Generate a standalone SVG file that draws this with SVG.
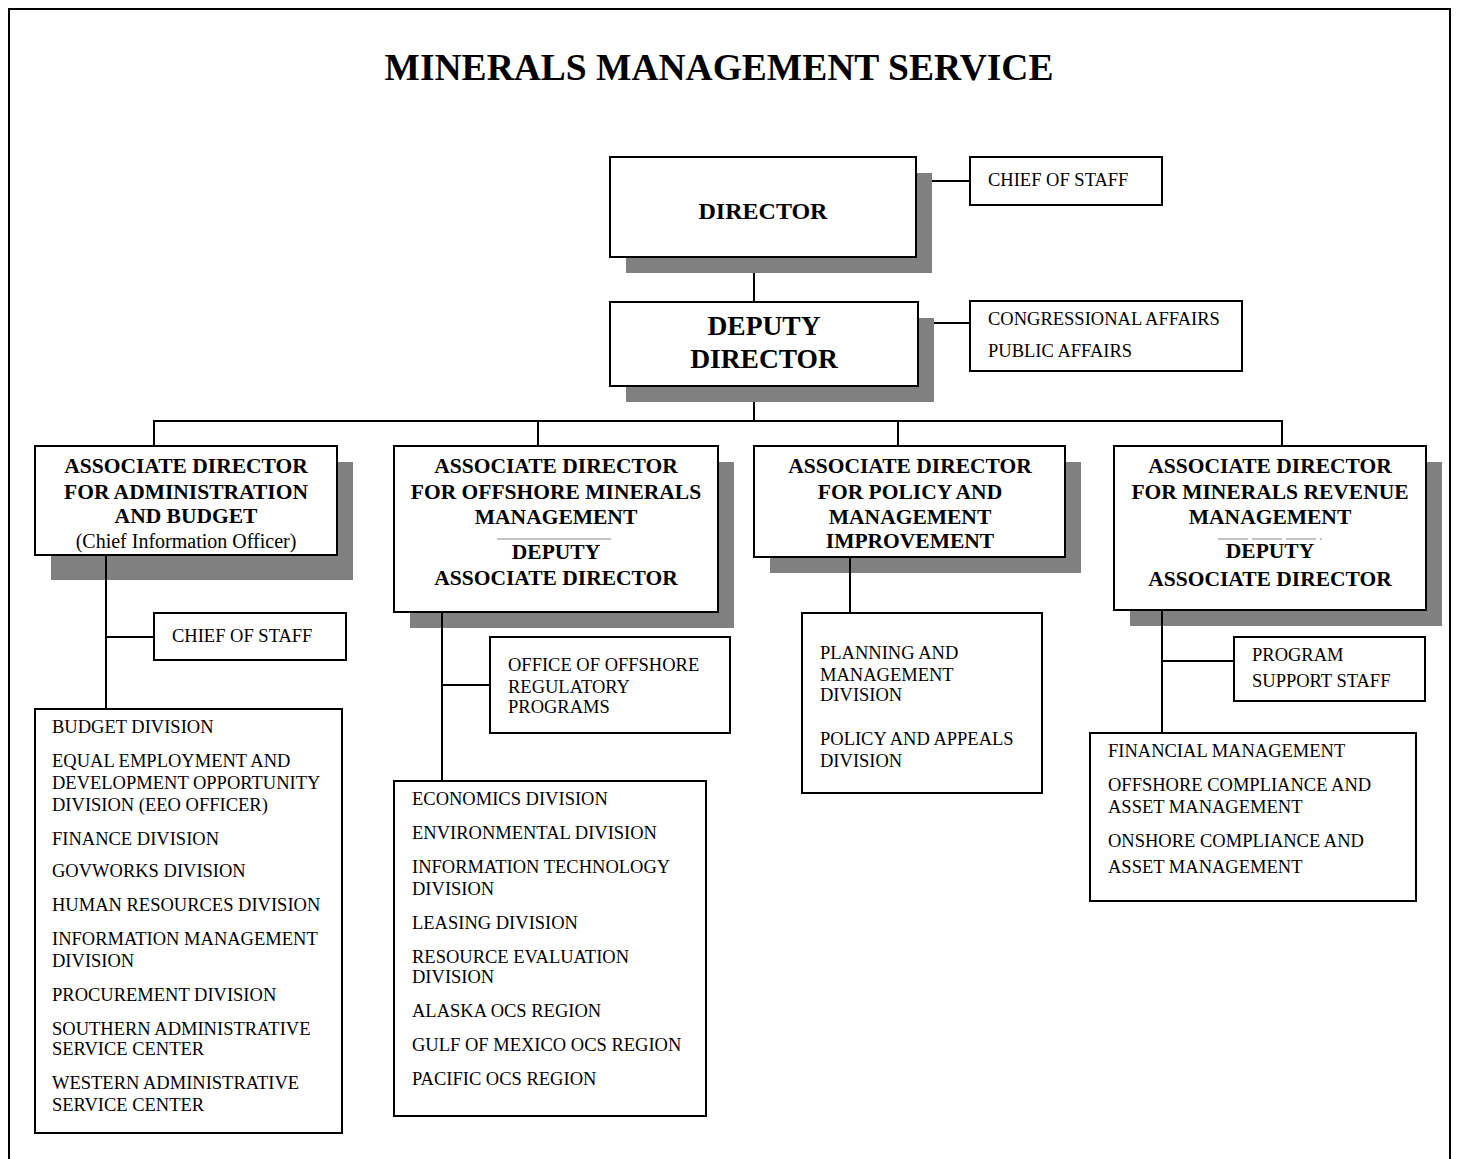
<svg xmlns="http://www.w3.org/2000/svg" width="1457" height="1159" viewBox="0 0 1457 1159">
<style>
.bx{fill:#fff;stroke:#000;stroke-width:2}
.sh{fill:#808080}
.ln{stroke:#000;stroke-width:2;fill:none}
.sep{stroke:#b0b0b0;stroke-width:1.5}
.t{font-family:"Liberation Serif","Times New Roman",serif;font-size:18.5px;fill:#000}
.b{font-family:"Liberation Serif","Times New Roman",serif;font-weight:bold;fill:#000;text-anchor:middle}
.h{font-size:21.5px}
.r{font-family:"Liberation Serif","Times New Roman",serif;font-size:20px;fill:#000;text-anchor:middle}
</style>
<rect x="9" y="9" width="1441" height="1200" fill="#fff" stroke="#000" stroke-width="2"/>
<text x="719" y="80" class="b" style="font-size:37.5px">MINERALS MANAGEMENT SERVICE</text>

<g id="connectors">
<line class="ln" x1="921" y1="181" x2="970" y2="181"/>
<line class="ln" x1="921" y1="323" x2="970" y2="323"/>
<line class="ln" x1="754" y1="257" x2="754" y2="302"/>
<line class="ln" x1="754" y1="386" x2="754" y2="421"/>
<line class="ln" x1="153" y1="421" x2="1283" y2="421"/>
<line class="ln" x1="154" y1="421" x2="154" y2="446"/>
<line class="ln" x1="538" y1="421" x2="538" y2="446"/>
<line class="ln" x1="898" y1="421" x2="898" y2="446"/>
<line class="ln" x1="1282" y1="421" x2="1282" y2="446"/>
</g>

<g id="director">
<rect class="sh" x="626" y="173" width="306" height="100"/>
<rect class="bx" x="610" y="157" width="306" height="100"/>
<text x="763" y="219" class="b" style="font-size:24px">DIRECTOR</text>
</g>
<g id="chief-of-staff">
<rect class="bx" x="970" y="157" width="192" height="48"/>
<text x="988" y="186" class="t">CHIEF OF STAFF</text>
</g>
<g id="deputy-director">
<rect class="sh" x="626" y="318" width="308" height="84"/>
<rect class="bx" x="610" y="302" width="308" height="84"/>
<text x="764" y="335" class="b" style="font-size:27.5px">DEPUTY</text>
<text x="764" y="368" class="b" style="font-size:27.5px">DIRECTOR</text>
</g>
<g id="affairs">
<rect class="bx" x="970" y="301" width="272" height="70"/>
<text x="988" y="325" class="t">CONGRESSIONAL AFFAIRS</text>
<text x="988" y="357" class="t">PUBLIC AFFAIRS</text>
</g>

<g id="ad-admin">
<rect class="sh" x="51" y="462" width="302" height="118"/>
<rect class="bx" x="35" y="446" width="302" height="109"/>
<text x="186" y="473" class="b h">ASSOCIATE DIRECTOR</text>
<text x="186" y="499" class="b h">FOR ADMINISTRATION</text>
<text x="186" y="523" class="b h">AND BUDGET</text>
<text x="186" y="548" class="r">(Chief Information Officer)</text>
</g>
<g id="admin-branch">
<line class="ln" x1="106" y1="555" x2="106" y2="709"/>
<line class="ln" x1="106" y1="637" x2="154" y2="637"/>
</g>
<g id="admin-chief-of-staff">
<rect class="bx" x="154" y="613" width="192" height="47"/>
<text x="172" y="642" class="t">CHIEF OF STAFF</text>
</g>
<g id="admin-divisions">
<rect class="bx" x="35" y="709" width="307" height="424"/>
<text x="52" y="733" class="t">BUDGET DIVISION</text>
<text x="52" y="767" class="t">EQUAL EMPLOYMENT AND</text>
<text x="52" y="789" class="t">DEVELOPMENT OPPORTUNITY</text>
<text x="52" y="811" class="t">DIVISION (EEO OFFICER)</text>
<text x="52" y="845" class="t">FINANCE DIVISION</text>
<text x="52" y="877" class="t">GOVWORKS DIVISION</text>
<text x="52" y="911" class="t">HUMAN RESOURCES DIVISION</text>
<text x="52" y="945" class="t">INFORMATION MANAGEMENT</text>
<text x="52" y="967" class="t">DIVISION</text>
<text x="52" y="1001" class="t">PROCUREMENT DIVISION</text>
<text x="52" y="1035" class="t">SOUTHERN ADMINISTRATIVE</text>
<text x="52" y="1055" class="t">SERVICE CENTER</text>
<text x="52" y="1089" class="t">WESTERN ADMINISTRATIVE</text>
<text x="52" y="1111" class="t">SERVICE CENTER</text>
</g>

<g id="ad-offshore">
<rect class="sh" x="410" y="462" width="324" height="166"/>
<rect class="bx" x="394" y="446" width="324" height="166"/>
<text x="556" y="473" class="b h">ASSOCIATE DIRECTOR</text>
<text x="556" y="499" class="b h">FOR OFFSHORE MINERALS</text>
<text x="556" y="524" class="b h">MANAGEMENT</text>
<line class="sep" x1="497" y1="539" x2="611" y2="539"/>
<text x="556" y="559" class="b h">DEPUTY</text>
<text x="556" y="585" class="b h">ASSOCIATE DIRECTOR</text>
</g>
<g id="offshore-branch">
<line class="ln" x1="442" y1="612" x2="442" y2="781"/>
<line class="ln" x1="442" y1="685" x2="490" y2="685"/>
</g>
<g id="offshore-regulatory">
<rect class="bx" x="490" y="637" width="240" height="96"/>
<text x="508" y="671" class="t">OFFICE OF OFFSHORE</text>
<text x="508" y="693" class="t">REGULATORY</text>
<text x="508" y="713" class="t">PROGRAMS</text>
</g>
<g id="offshore-divisions">
<rect class="bx" x="394" y="781" width="312" height="335"/>
<text x="412" y="805" class="t">ECONOMICS DIVISION</text>
<text x="412" y="839" class="t">ENVIRONMENTAL DIVISION</text>
<text x="412" y="873" class="t">INFORMATION TECHNOLOGY</text>
<text x="412" y="895" class="t">DIVISION</text>
<text x="412" y="929" class="t">LEASING DIVISION</text>
<text x="412" y="963" class="t">RESOURCE EVALUATION</text>
<text x="412" y="983" class="t">DIVISION</text>
<text x="412" y="1017" class="t">ALASKA OCS REGION</text>
<text x="412" y="1051" class="t">GULF OF MEXICO OCS REGION</text>
<text x="412" y="1085" class="t">PACIFIC OCS REGION</text>
</g>

<g id="ad-policy">
<rect class="sh" x="770" y="462" width="311" height="111"/>
<rect class="bx" x="754" y="446" width="311" height="111"/>
<text x="910" y="473" class="b h">ASSOCIATE DIRECTOR</text>
<text x="910" y="499" class="b h">FOR POLICY AND</text>
<text x="910" y="524" class="b h">MANAGEMENT</text>
<text x="910" y="548" class="b h">IMPROVEMENT</text>
</g>
<g id="policy-branch">
<line class="ln" x1="850" y1="557" x2="850" y2="613"/>
</g>
<g id="policy-divisions">
<rect class="bx" x="802" y="613" width="240" height="180"/>
<text x="820" y="659" class="t">PLANNING AND</text>
<text x="820" y="681" class="t">MANAGEMENT</text>
<text x="820" y="701" class="t">DIVISION</text>
<text x="820" y="745" class="t">POLICY AND APPEALS</text>
<text x="820" y="767" class="t">DIVISION</text>
</g>

<g id="ad-revenue">
<rect class="sh" x="1130" y="462" width="312" height="164"/>
<rect class="bx" x="1114" y="446" width="312" height="164"/>
<text x="1270" y="473" class="b h">ASSOCIATE DIRECTOR</text>
<text x="1270" y="499" class="b h">FOR MINERALS REVENUE</text>
<text x="1270" y="524" class="b h">MANAGEMENT</text>
<line class="sep" x1="1218" y1="539" x2="1322" y2="539" stroke-dasharray="30 4"/>
<text x="1270" y="558" class="b h">DEPUTY</text>
<text x="1270" y="586" class="b h">ASSOCIATE DIRECTOR</text>
</g>
<g id="revenue-branch">
<line class="ln" x1="1162" y1="610" x2="1162" y2="733"/>
<line class="ln" x1="1162" y1="661" x2="1234" y2="661"/>
</g>
<g id="program-support">
<rect class="bx" x="1234" y="637" width="191" height="64"/>
<text x="1252" y="661" class="t">PROGRAM</text>
<text x="1252" y="687" class="t">SUPPORT STAFF</text>
</g>
<g id="revenue-divisions">
<rect class="bx" x="1090" y="733" width="326" height="168"/>
<text x="1108" y="757" class="t">FINANCIAL MANAGEMENT</text>
<text x="1108" y="791" class="t">OFFSHORE COMPLIANCE AND</text>
<text x="1108" y="813" class="t">ASSET MANAGEMENT</text>
<text x="1108" y="847" class="t">ONSHORE COMPLIANCE AND</text>
<text x="1108" y="873" class="t">ASSET MANAGEMENT</text>
</g>
</svg>
